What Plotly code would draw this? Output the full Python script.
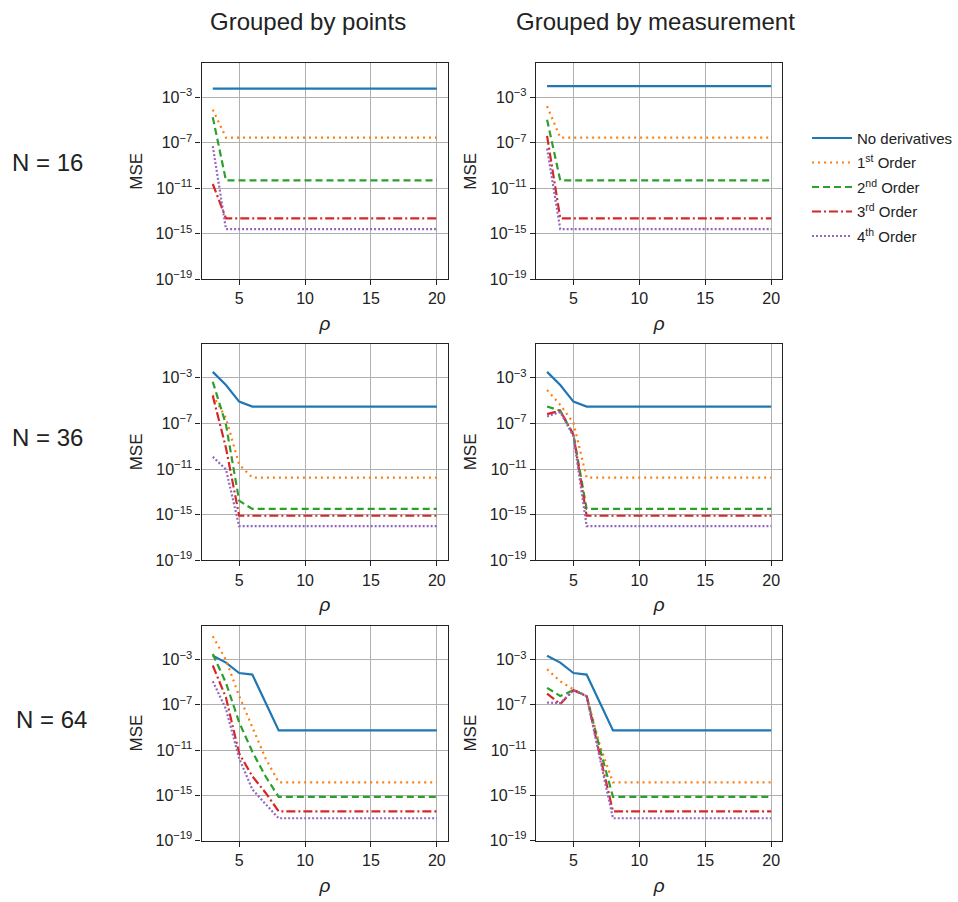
import plotly.graph_objects as go

rho = list(range(3, 21))

def plateau(head):
    # values; the curve stays flat at its last value
    return head + [head[-1]] * (len(rho) - len(head))

series_names = ["No derivatives", "1<sup>st</sup> Order", "2<sup>nd</sup> Order",
                "3<sup>rd</sup> Order", "4<sup>th</sup> Order"]
colors = ["#1f77b4", "#ff7f0e", "#2ca02c", "#d62728", "#9467bd"]
dashes = ["solid", "2px,4px", "7px,4px", "9px,3px,2px,3px", "2px,2px"]

# N = 16
n16_points = [
    plateau([6.0e-3]),
    plateau([8.5e-5, 2.9e-7]),
    plateau([1.8e-5, 5.0e-11]),
    plateau([2.4e-11, 2.3e-14]),
    plateau([5.1e-8, 2.6e-15]),
]
n16_meas = [
    plateau([1.0e-2]),
    plateau([1.7e-4, 2.9e-7]),
    plateau([1.1e-5, 5.0e-11]),
    plateau([4.1e-7, 2.3e-14]),
    plateau([3.2e-8, 2.6e-15]),
]
# N = 36
n36_points = [
    plateau([3.3e-3, 2.3e-4, 8.1e-6, 3.0e-6]),
    plateau([3.1e-5, 2.9e-7, 2.5e-11, 1.8e-12]),
    plateau([4.5e-4, 7.9e-8, 1.7e-14, 3.2e-15]),
    plateau([2.6e-5, 7.2e-10, 8.1e-16]),
    plateau([1.2e-10, 9.3e-12, 1.0e-16]),
]
n36_meas = [
    plateau([3.3e-3, 2.3e-4, 8.1e-6, 3.0e-6]),
    plateau([8.5e-5, 4.2e-6, 1.1e-7, 1.8e-12]),
    plateau([3.0e-6, 1.3e-6, 1.0e-8, 3.2e-15]),
    plateau([6.5e-7, 1.3e-6, 1.0e-8, 8.1e-16]),
    plateau([4.1e-7, 9.8e-7, 7.4e-9, 1.0e-16]),
]
# N = 64
n64_points = [
    plateau([2.2e-3, 5.5e-4, 6.5e-5, 4.7e-5, 1.6e-7, 5.5e-10]),
    plateau([1.15e-1, 9.3e-4, 6.0e-7, 1.1e-9, 1.9e-12, 1.4e-14]),
    plateau([3.1e-3, 8.7e-6, 2.9e-9, 7.2e-12, 4.8e-14, 7.2e-16]),
    plateau([3.0e-4, 4.4e-7, 5.1e-12, 4.8e-14, 1.7e-15, 3.8e-17]),
    plateau([1.2e-5, 4.2e-8, 1.9e-12, 3.3e-15, 1.7e-16, 9.3e-18]),
]
n64_meas = [
    plateau([2.2e-3, 5.5e-4, 6.5e-5, 4.7e-5, 1.6e-7, 5.5e-10]),
    plateau([1.4e-4, 1.2e-5, 2.3e-6, 6.0e-7, 2.7e-11, 1.4e-14]),
    plateau([3.2e-6, 6.0e-7, 2.0e-6, 6.0e-7, 1.4e-11, 7.2e-16]),
    plateau([1.0e-6, 1.15e-7, 2.0e-6, 6.0e-7, 3.7e-12, 3.8e-17]),
    plateau([1.6e-7, 1.4e-7, 2.0e-6, 6.0e-7, 1.9e-12, 9.3e-18]),
]

panels = [[n16_points, n16_meas], [n36_points, n36_meas], [n64_points, n64_meas]]
row_labels = ["N = 16", "N = 36", "N = 64"]
col_titles = ["Grouped by points", "Grouped by measurement"]
y_tickvals = [1e-19, 1e-15, 1e-11, 1e-7, 1e-3]
y_ticktext = ["10<sup>\u221219</sup>", "10<sup>\u221215</sup>", "10<sup>\u221211</sup>",
              "10<sup>\u22127</sup>", "10<sup>\u22123</sup>"]
x_tickvals = [5, 10, 15, 20]

W, H = 958, 902
col_px = [(202, 449), (537, 784)]
row_px = [(64, 282), (347, 566), (632, 849)]

FONT = "Liberation Sans, Arial, Helvetica, sans-serif"
fig = go.Figure()
layout = dict(
    width=W, height=H, margin=dict(l=0, r=0, t=0, b=0),
    paper_bgcolor="white", plot_bgcolor="white",
    font=dict(family=FONT, size=16, color="#222"),
    showlegend=True,
    legend=dict(x=809 / W, y=1 - 123 / H, xanchor="left", yanchor="top",
                font=dict(size=15, color="#222"), bgcolor="rgba(0,0,0,0)",
                tracegroupgap=2, itemwidth=40),
)
annotations = []

k = 0
for r in range(3):
    for c in range(2):
        k += 1
        sfx = "" if k == 1 else str(k)
        xa, ya = "x" + sfx, "y" + sfx
        data = panels[r][c]
        for i in range(5):
            fig.add_trace(go.Scatter(
                x=rho, y=data[i], mode="lines", name=series_names[i],
                line=dict(color=colors[i], width=2.2, dash=dashes[i]),
                xaxis=xa, yaxis=ya, showlegend=(k == 1),
                legendgroup=str(i)))
        x0, x1 = col_px[c]
        y0, y1 = row_px[r]
        layout["xaxis" + sfx] = dict(
            domain=[x0 / W, x1 / W], anchor=ya, range=[2.15, 20.85],
            tickvals=x_tickvals, ticks="outside", ticklen=5, tickcolor="#222",
            showline=True, mirror=True, linecolor="#222", linewidth=1.2,
            showgrid=True, gridcolor="#b0b0b0", gridwidth=1, zeroline=False,
            tickfont=dict(size=16), title=dict(text="<i>\u03c1</i>", font=dict(size=19), standoff=10))
        layout["yaxis" + sfx] = dict(
            domain=[1 - y1 / H, 1 - y0 / H], anchor=xa, type="log", range=[-19, 0],
            tickvals=y_tickvals, ticktext=y_ticktext, ticks="outside", ticklen=5,
            tickcolor="#222", showline=True, mirror=True, linecolor="#222", linewidth=1.2,
            showgrid=True, gridcolor="#b0b0b0", gridwidth=1, zeroline=False,
            tickfont=dict(size=16), title=dict(text="MSE", font=dict(size=17), standoff=8))

title_cx = [309, 657]
for c in range(2):
    annotations.append(dict(text=col_titles[c], x=title_cx[c] / W, y=1 - 22 / H,
                            xref="paper", yref="paper", showarrow=False,
                            font=dict(size=24, color="#222"), xanchor="center", yanchor="middle"))
row_label_y = [164, 442, 727]
row_label_x = [48, 48, 52]
for r in range(3):
    annotations.append(dict(text=row_labels[r], x=row_label_x[r] / W, y=1 - row_label_y[r] / H,
                            xref="paper", yref="paper", showarrow=False,
                            font=dict(size=24, color="#222"), xanchor="center", yanchor="middle"))
layout["annotations"] = annotations
fig.update_layout(**layout)
fig.write_html("out.html")
